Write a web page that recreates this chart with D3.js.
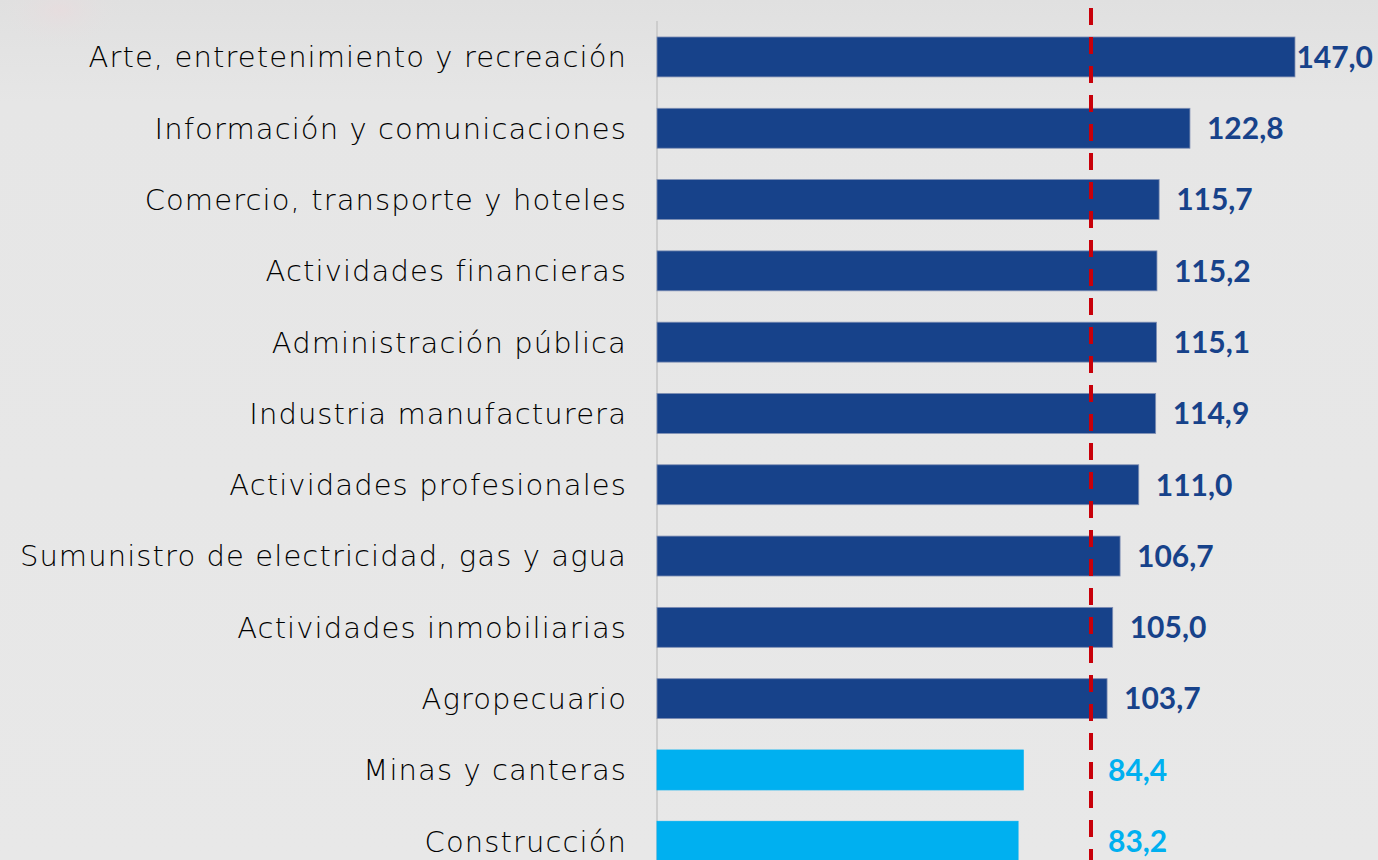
<!DOCTYPE html>
<html>
<head>
	<meta charset="UTF-8">
	<script src="https://d3js.org/d3.v7.min.js"></script>
	<style>
		body{
			margin: 0;
			background-color: #e7e7e7;
		}
	</style>
</head>
<body>
	<div class="chart"></div>
	<script type="text/javascript">
		var sectores = ["Arte, entretenimiento y recreación", "Información y comunicaciones",
			"Comercio, transporte y hoteles", "Actividades financieras", "Administración pública",
			"Industria manufacturera", "Actividades profesionales", "Sumunistro de electricidad, gas y agua",
			"Actividades inmobiliarias", "Agropecuario", "Minas y canteras", "Construcción"];
		var indices = [147.0, 122.8, 115.7, 115.2, 115.1, 114.9, 111.0, 106.7, 105.0, 103.7, 84.4, 83.2];
		var referencia = 100;

		var W = 1378, H = 860;
		var l = 657;           // axis position
		var pxPerUnit = 4.34;
		var step = 71.3;

		var svg = d3.select("div.chart")
					.append("svg")
					.attr("width", W)
					.attr("height", H);

		// background, slightly darker at the top with a faint reddish blur top-left
		var defs = svg.append("defs");
		var bg = defs.append("linearGradient").attr("id", "bg").attr("x1", 0).attr("y1", 0).attr("x2", 0).attr("y2", 1);
		bg.append("stop").attr("offset", "0%").attr("stop-color", "#e0e0e0");
		bg.append("stop").attr("offset", "12%").attr("stop-color", "#e6e6e6");
		bg.append("stop").attr("offset", "100%").attr("stop-color", "#e8e8e8");
		var blur = defs.append("radialGradient").attr("id", "blur");
		blur.append("stop").attr("offset", "0%").attr("stop-color", "#ecd9dc").attr("stop-opacity", 0.5);
		blur.append("stop").attr("offset", "100%").attr("stop-color", "#e2e2e2").attr("stop-opacity", 0);
		svg.append("rect").attr("width", W).attr("height", H).attr("fill", "url(#bg)");
		svg.append("ellipse").attr("cx", 60).attr("cy", 10).attr("rx", 65).attr("ry", 40).attr("fill", "url(#blur)");

		var xScale = d3.scaleLinear()
						.domain([0, 1])
						.range([l, l + pxPerUnit]);

		var yScale = d3.scaleBand()
						.domain(sectores)
						.range([21.3, 21.3 + step * 12])
						.paddingInner(0.44)
						.paddingOuter(0.22);

		//axis line
		var yAxis = d3.axisLeft(yScale).tickSize(0).tickFormat("");
		svg.append("g").attr("class", "axis")
		   .attr("transform", "translate(" + l + ",0)")
		   .call(yAxis)
		   .select(".domain")
		   .attr("d", "M0,21V" + H)
		   .attr("stroke", "#cdcdcd")
		   .attr("stroke-width", 2);

		//bars
		svg.selectAll("rect.bar")
		   .data(indices)
		   .enter()
		   .append("rect")
		   .attr("class", "bar")
		   .attr("x", xScale(0))
		   .attr("y", function(d, i) { return yScale(sectores[i]); })
		   .attr("width", function(d) { return xScale(d) - xScale(0); })
		   .attr("height", yScale.bandwidth())
		   .attr("fill", function(d) { return d >= referencia ? "#17428a" : "#00b0f0"; })
		   .attr("stroke", function(d) { return d >= referencia ? "#7f8fb4" : "#00b0f0"; })
		   .attr("stroke-width", 0.8);

		//reference line at 100
		svg.append("line")
		   .attr("x1", xScale(referencia)).attr("x2", xScale(referencia))
		   .attr("y1", 8).attr("y2", H)
		   .attr("stroke", "#c8000a")
		   .attr("stroke-width", 4)
		   .attr("stroke-dasharray", "17,12");

		//category labels
		svg.selectAll("text.cat")
		   .data(sectores)
		   .enter()
		   .append("text")
		   .attr("class", "cat")
		   .attr("text-anchor", "end")
		   .attr("x", l - 30)
		   .attr("y", function(d) { return yScale(d) + yScale.bandwidth() / 2; })
		   .attr("dy", "0.36em")
		   .attr("font-family", "'DejaVu Sans'")
		   .attr("font-weight", 200)
		   .attr("font-size", "29px")
		   .attr("letter-spacing", "1.1px")
		   .attr("fill", "#000")
		   .text(function(d) { return d; });

		//value labels
		svg.selectAll("text.val")
		   .data(indices)
		   .enter()
		   .append("text")
		   .attr("class", "val")
		   .attr("x", function(d) { return Math.max(xScale(d), xScale(referencia)) + 17; })
		   .attr("y", function(d, i) { return yScale(sectores[i]) + yScale.bandwidth() / 2; })
		   .attr("dy", "0.36em")
		   .attr("font-family", "Lato")
		   .attr("font-weight", 700)
		   .attr("font-size", "30px")
		   .attr("fill", function(d) { return d >= referencia ? "#17428a" : "#00b0f0"; })
		   .text(function(d) { return d3.format(".1f")(d).replace(".", ","); })
		   .each(function() {
				var w = this.getComputedTextLength();
				var x = +d3.select(this).attr("x");
				if (x + w > W - 5) d3.select(this).attr("x", W - 5 - w);
		   });
	</script>
</body>
</html>
